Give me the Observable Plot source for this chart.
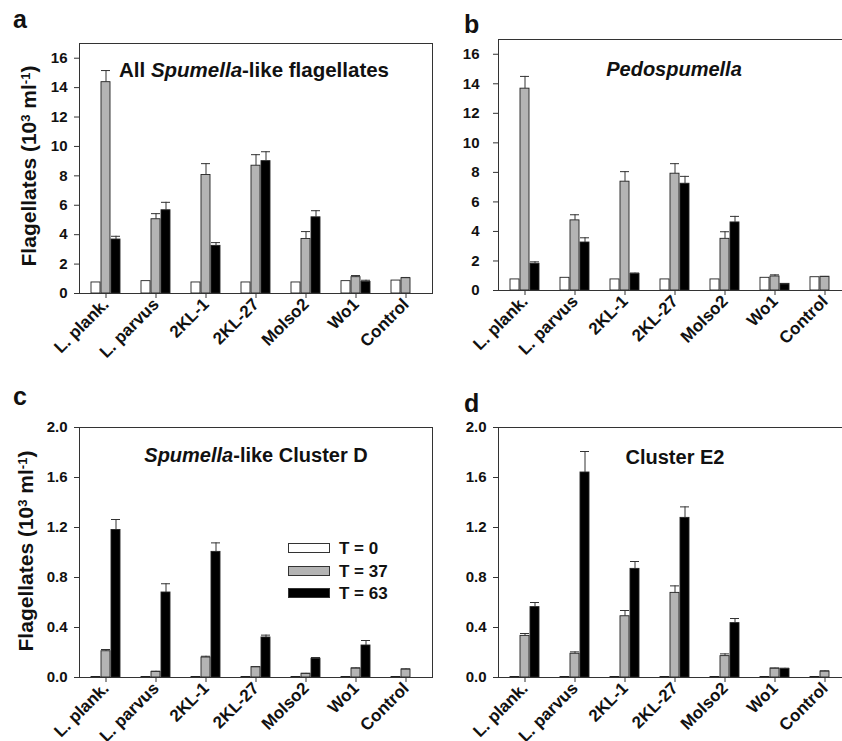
<!DOCTYPE html>
<html>
<head>
<meta charset="utf-8">
<script src="https://cdn.jsdelivr.net/npm/d3@7"></script>
<script src="https://cdn.jsdelivr.net/npm/@observablehq/plot@0.6"></script>
<style>
  html, body { margin: 0; padding: 0; background: white; overflow: hidden; }
  #root { position: relative; width: 842px; height: 741px; overflow: hidden; background: white;
          font-family: 'Liberation Sans', Arial, sans-serif; font-weight: bold; color: #111; }
  .abs { position: absolute; white-space: nowrap; line-height: 1; }
  .sup { font-size: 0.62em; position: relative; top: -0.5em; }
  .sw { position: absolute; width: 40px; height: 8px; border: 1px solid #333; }
  #root svg { max-width: none !important; }
</style>
</head>
<body>
<div id="root"></div>
<script>
// ---- data ----
const categories = ["L. plank.", "L. parvus", "2KL-1", "2KL-27", "Molso2", "Wo1", "Control"];
const series = ["T = 0", "T = 37", "T = 63"];

// Panel a: All Spumella-like flagellates (10^3 ml^-1)
const aT0    = [0.75, 0.84, 0.75, 0.75, 0.75, 0.84, 0.88];
const aT37   = [14.37, 5.05, 8.06, 8.69, 3.71, 1.11, 1.04];
const aT37e  = [0.79, 0.38, 0.77, 0.75, 0.50, 0.11, 0.05];
const aT63   = [3.67, 5.66, 3.24, 9.00, 5.18, 0.79, null];
const aT63e  = [0.22, 0.54, 0.22, 0.64, 0.45, 0.11, null];

// Panel b: Pedospumella
const bT0    = [0.75, 0.86, 0.75, 0.75, 0.75, 0.86, 0.90];
const bT37   = [13.67, 4.75, 7.37, 7.91, 3.50, 0.95, 0.93];
const bT37e  = [0.83, 0.38, 0.68, 0.68, 0.48, 0.11, 0.02];
const bT63   = [1.81, 3.25, 1.13, 7.23, 4.61, 0.45, null];
const bT63e  = [0.13, 0.32, 0.05, 0.50, 0.41, 0.00, null];

// Panel c: Spumella-like Cluster D
const cT0    = [0.004, 0.004, 0.004, 0.004, 0.004, 0.004, 0.004];
const cT37   = [0.21, 0.045, 0.16, 0.083, 0.03, 0.072, 0.064];
const cT37e  = [0.014, 0.005, 0.010, 0.003, 0.003, 0.005, 0.005];
const cT63   = [1.18, 0.68, 1.005, 0.32, 0.15, 0.256, null];
const cT63e  = [0.084, 0.07, 0.072, 0.019, 0.010, 0.040, null];

// Panel d: Cluster E2
const dT0    = [0.004, 0.004, 0.004, 0.004, 0.004, 0.004, 0.004];
const dT37   = [0.333, 0.19, 0.49, 0.677, 0.171, 0.072, 0.048];
const dT37e  = [0.019, 0.015, 0.046, 0.056, 0.018, 0.003, 0.005];
const dT63   = [0.563, 1.64, 0.869, 1.277, 0.435, 0.069, null];
const dT63e  = [0.037, 0.168, 0.059, 0.088, 0.037, 0.005, null];

const ticksHigh = [0, 2, 4, 6, 8, 10, 12, 14, 16];
const ticksLow  = [0, 0.4, 0.8, 1.2, 1.6, 2.0];

const colors = ["white", "#b4b4b4", "black"];
// ---- end data ----

const root = document.getElementById("root");
const FONT = "'Liberation Sans', Arial, sans-serif";

function panel(o) {
  const keys = categories.flatMap(c => [c + "|pre", ...series.map(s => c + "|" + s), c + "|post"]);
  const mid = categories.map(c => c + "|" + series[1]);
  const vals = [o.T0, o.T37, o.T63];
  const errs = [null, o.T37e, o.T63e];
  const rows = categories.flatMap((c, i) => series.map((s, j) => ({
    key: c + "|" + s, series: s, value: vals[j][i], err: errs[j] ? errs[j][i] : null
  }))).filter(r => r.value != null);
  const errRows = rows.filter(r => r.err != null);
  const chart = Plot.plot({
    width: o.width, height: o.height,
    marginLeft: o.mLeft, marginRight: o.mRight, marginTop: o.mTop, marginBottom: o.mBottom,
    style: {background: "transparent", overflow: "visible", fontFamily: FONT, fontWeight: "bold", color: "#111", maxWidth: "none"},
    x: {domain: keys, paddingInner: 0.15, paddingOuter: 0, axis: null},
    y: {domain: o.yDomain, axis: null},
    color: {domain: series, range: colors},
    marks: [
      Plot.barY(rows, {x: "key", y: "value", fill: "series", stroke: "#222", strokeWidth: 0.9}),
      Plot.ruleX(errRows, {x: "key", y1: "value", y2: d => d.value + d.err, stroke: "#333", strokeWidth: 1}),
      Plot.tickY(errRows, {x: "key", y: d => d.value + d.err, stroke: "#333", strokeWidth: 1}),
      Plot.axisY({ticks: o.yTicks, tickFormat: o.fmt, tickSize: 5, tickPadding: o.tickPad, fontSize: 15, label: null, stroke: "#333"}),
      Plot.axisX({ticks: mid, tickFormat: k => k.split("|")[0], tickRotate: -45, tickSize: 5, tickPadding: 3, fontSize: 17, label: null, stroke: "#333"}),
      Plot.frame({stroke: "#333", strokeWidth: 1})
    ]
  });
  const wrap = document.createElement("div");
  wrap.style.position = "absolute";
  wrap.style.left = o.left + "px";
  wrap.style.top = o.top + "px";
  wrap.style.width = o.width + "px";
  wrap.style.height = o.height + "px";
  wrap.appendChild(chart);
  root.appendChild(wrap);
}

panel({left: 0, top: 0, width: 440, height: 370, mLeft: 79, mRight: 8, mTop: 43, mBottom: 77,
  T0: aT0, T37: aT37, T37e: aT37e, T63: aT63, T63e: aT63e, yDomain: [0, 17], yTicks: ticksHigh,
  fmt: d => String(d), tickPad: 7});
panel({left: 420, top: 0, width: 440, height: 370, mLeft: 78, mRight: 10, mTop: 39, mBottom: 80,
  T0: bT0, T37: bT37, T37e: bT37e, T63: bT63, T63e: bT63e, yDomain: [0, 17], yTicks: ticksHigh,
  fmt: d => String(d), tickPad: 14});
panel({left: 0, top: 370, width: 440, height: 371, mLeft: 79, mRight: 8, mTop: 57, mBottom: 64,
  T0: cT0, T37: cT37, T37e: cT37e, T63: cT63, T63e: cT63e, yDomain: [0, 2], yTicks: ticksLow,
  fmt: d => d.toFixed(1), tickPad: 7});
panel({left: 420, top: 370, width: 440, height: 371, mLeft: 78, mRight: 10, mTop: 57, mBottom: 64,
  T0: dT0, T37: dT37, T37e: dT37e, T63: dT63, T63e: dT63e, yDomain: [0, 2], yTicks: ticksLow,
  fmt: d => d.toFixed(1), tickPad: 7});

// ---- text overlays ----
function textAt(html, x, baseline, size, align, extra) {
  const el = document.createElement("div");
  el.className = "abs";
  el.style.fontSize = size + "px";
  el.style.top = (baseline - 0.8465 * size) + "px";
  el.style.left = x + "px";
  if (align === "center") el.style.transform = "translateX(-50%)";
  if (extra) Object.assign(el.style, extra);
  el.innerHTML = html;
  root.appendChild(el);
  return el;
}
// panel letters
textAt("a", 13, 28, 25);
textAt("b", 464, 33, 25);
textAt("c", 13, 405, 25);
textAt("d", 464, 412, 25);
// panel titles
textAt("All <i>Spumella</i>-like flagellates", 254, 77, 20.5, "center");
textAt("<i>Pedospumella</i>", 674, 76, 20, "center");
textAt("<i>Spumella</i>-like Cluster D", 256, 462, 20, "center");
textAt("Cluster E2", 675, 464, 20, "center");

// y-axis titles
function yTitle(cx, cy) {
  const el = document.createElement("div");
  el.className = "abs";
  el.style.fontSize = "21px";
  el.style.left = cx + "px";
  el.style.top = cy + "px";
  el.style.transform = "translate(-50%, -50%) rotate(-90deg)";
  el.innerHTML = "Flagellates (10<span class='sup'>3</span> ml<span class='sup'>-1</span>)";
  root.appendChild(el);
}
yTitle(28, 166);
yTitle(25, 551);

// legend (panel c)
const legTops = [543, 566, 588];
series.forEach((s, i) => {
  const sw = document.createElement("div");
  sw.className = "sw";
  sw.style.left = "288px";
  sw.style.top = legTops[i] + "px";
  sw.style.background = colors[i];
  root.appendChild(sw);
  textAt(s, 339, legTops[i] + 11, 17);
});
</script>
</body>
</html>
